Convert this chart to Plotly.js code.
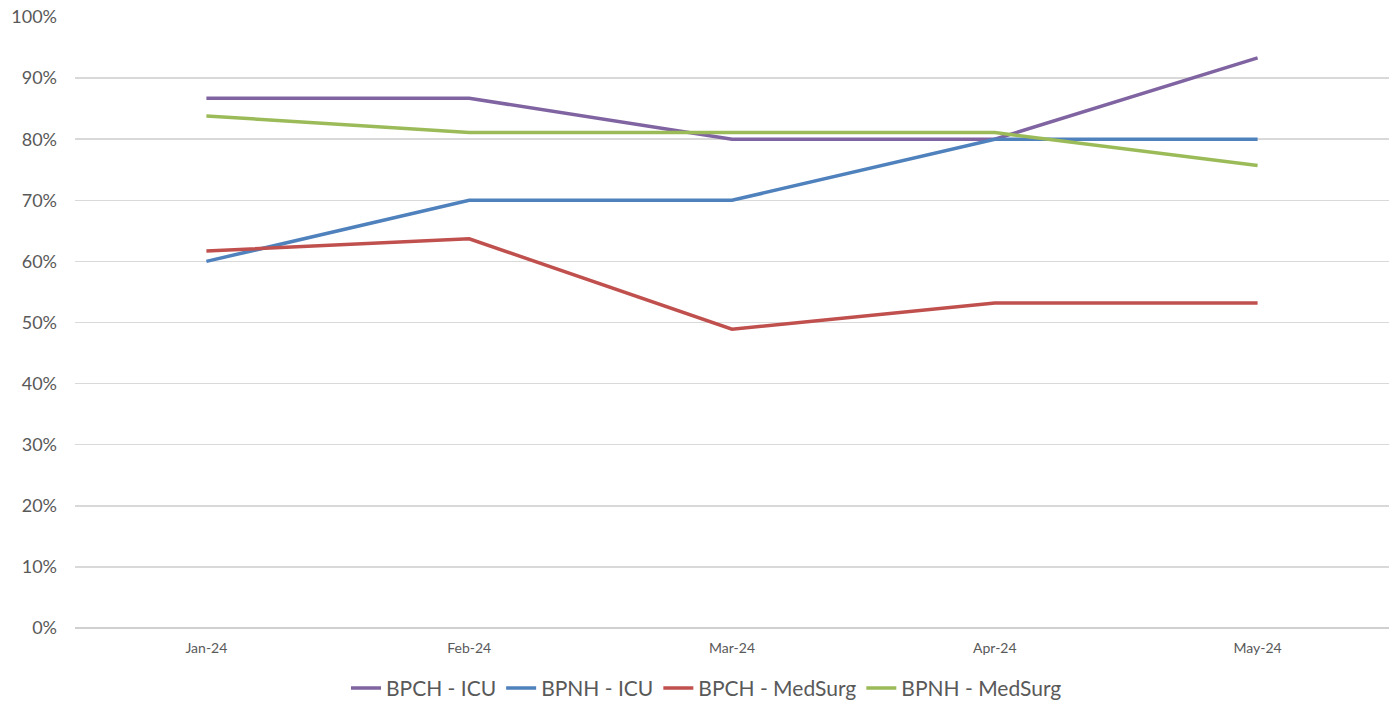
<!DOCTYPE html>
<html>
<head>
<meta charset="utf-8">
<script src="https://cdn.plot.ly/plotly-3.0.1.min.js"></script>
<style>html,body{margin:0;padding:0;background:#fff;}#chart{width:1399px;height:703px;}</style>
</head>
<body>
<div id="chart"></div>
<script>
const months = ["Jan-24", "Feb-24", "Mar-24", "Apr-24", "May-24"];
const seriesNames = ["BPCH - ICU", "BPNH - ICU", "BPCH - MedSurg", "BPNH - MedSurg"];
const bpchIcu = [0.867, 0.867, 0.80, 0.80, 0.933];
const bpnhIcu = [0.60, 0.70, 0.70, 0.80, 0.80];
const bpchMedSurg = [0.617, 0.637, 0.489, 0.532, 0.532];
const bpnhMedSurg = [0.838, 0.811, 0.811, 0.811, 0.757];
const colors = ["#8064A2", "#4F81BD", "#C0504D", "#9BBB59"];
const yTicks = [0, 0.1, 0.2, 0.3, 0.4, 0.5, 0.6, 0.7, 0.8, 0.9, 1.0];

const allSeries = [bpchIcu, bpnhIcu, bpchMedSurg, bpnhMedSurg];
const traces = allSeries.map((vals, i) => ({
  type: "scatter",
  mode: "lines",
  x: months,
  y: vals,
  name: seriesNames[i],
  line: {color: colors[i], width: 3.5},
  hoverinfo: "x+y+name"
}));

const layout = {
  width: 1399,
  height: 703,
  margin: {l: 75, r: 10, t: 17, b: 75},
  paper_bgcolor: "#ffffff",
  plot_bgcolor: "#ffffff",
  font: {family: "Lato, 'Open Sans', sans-serif", color: "#595959"},
  showlegend: true,
  legend: {
    orientation: "h",
    xref: "container",
    yref: "container",
    x: 0.505, xanchor: "center",
    y: 0.021, yanchor: "middle",
    font: {size: 21, color: "#595959"},
    entrywidth: 0,
    tracegroupgap: 0
  },
  xaxis: {
    type: "category",
    range: [-0.5, 4.5],
    showgrid: false,
    showline: false,
    zeroline: false,
    ticks: "",
    tickfont: {size: 14, color: "#595959"},
    ticklabelstandoff: 10,
    fixedrange: true
  },
  yaxis: {
    range: [0, 1.0],
    tickvals: yTicks,
    tickformat: ".0%",
    gridcolor: "#d9d9d9",
    gridwidth: 1.5,
    zeroline: true,
    zerolinecolor: "#d0d0d0",
    zerolinewidth: 1.5,
    showline: false,
    ticks: "",
    tickfont: {size: 18, color: "#595959"},
    ticklabelstandoff: 17,
    fixedrange: true
  }
};

Plotly.newPlot("chart", traces, layout, {displayModeBar: false, staticPlot: true});
</script>
</body>
</html>
